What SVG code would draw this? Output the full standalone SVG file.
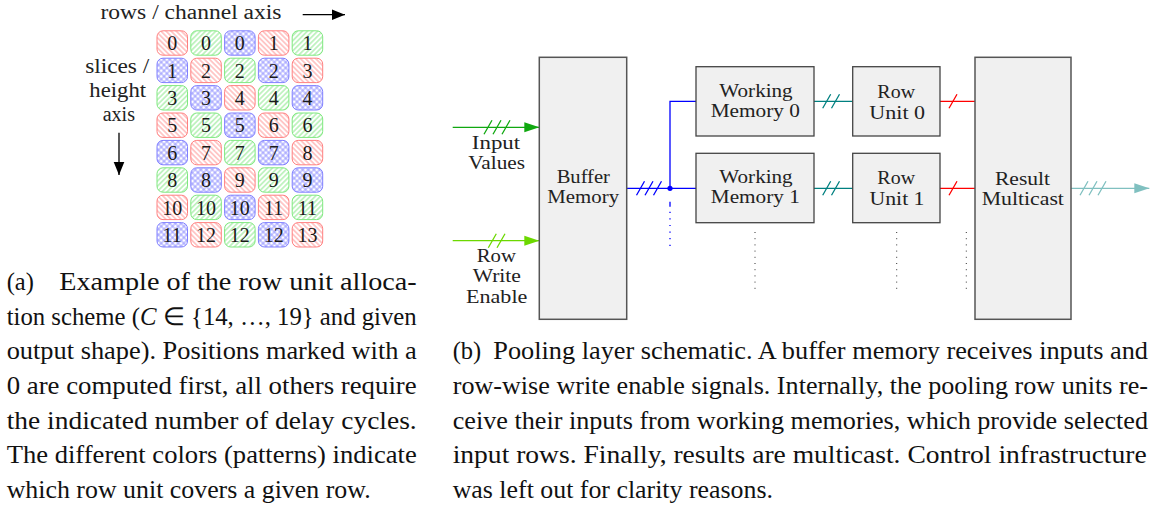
<svg xmlns="http://www.w3.org/2000/svg" width="1153" height="506" viewBox="0 0 1153 506" font-family="Liberation Serif, serif">
<style>
.cr{fill:url(#hr);stroke:#ff8080;stroke-width:1}
.cg{fill:url(#hg);stroke:#7fe87f;stroke-width:1}
.cb{fill:url(#hb);stroke:#8080ff;stroke-width:1}
.num{font-size:20px;fill:#1a1a1a;text-anchor:middle}
.lbl{font-size:19.5px;fill:#222;text-anchor:middle}
.ax{font-size:20.5px;fill:#222;text-anchor:middle}
.cap{font-size:24.5px;fill:#111}
.box{fill:#f0f0f0;stroke:#444;stroke-width:1.3}
.big{fill:#f0f0f0;stroke:#555;stroke-width:1.5}
.w{fill:none;stroke-width:1.3}
.dots{fill:none;stroke:#333;stroke-width:1;stroke-dasharray:1 5.2}
</style>
<defs>
<pattern id="hr" patternUnits="userSpaceOnUse" width="3.6" height="3.6" patternTransform="rotate(-45)"><rect width="3.6" height="3.6" fill="#fff"/><line x1="1.8" y1="0" x2="1.8" y2="3.6" stroke="#ff8585" stroke-width="0.85"/></pattern>
<pattern id="hg" patternUnits="userSpaceOnUse" width="3.6" height="3.6" patternTransform="rotate(45)"><rect width="3.6" height="3.6" fill="#fff"/><line x1="1.8" y1="0" x2="1.8" y2="3.6" stroke="#78e478" stroke-width="0.85"/></pattern>
<pattern id="hb" patternUnits="userSpaceOnUse" width="4" height="4" patternTransform="rotate(45)"><rect width="4" height="4" fill="#fff"/><line x1="2" y1="0" x2="2" y2="4" stroke="#8585ff" stroke-width="0.85"/><line x1="0" y1="2" x2="4" y2="2" stroke="#8585ff" stroke-width="0.85"/></pattern>
<marker id="ak" markerUnits="userSpaceOnUse" markerWidth="14" markerHeight="12" refX="13" refY="6" orient="auto"><path d="M0,0.7 L13,6 L0,11.3 Z" fill="#000"/></marker>
<marker id="ag" markerUnits="userSpaceOnUse" markerWidth="16" markerHeight="12" refX="15" refY="6" orient="auto"><path d="M0,1 L15,6 L0,11 Z" fill="#10a810"/></marker>
<marker id="al" markerUnits="userSpaceOnUse" markerWidth="16" markerHeight="12" refX="15" refY="6" orient="auto"><path d="M0,1 L15,6 L0,11 Z" fill="#6cd800"/></marker>
<marker id="at" markerUnits="userSpaceOnUse" markerWidth="16" markerHeight="12" refX="15" refY="6" orient="auto"><path d="M0,1 L15,6 L0,11 Z" fill="#80c0c0"/></marker>
</defs>
<rect width="1153" height="506" fill="#fff"/>

<!-- (a) axis labels -->
<g id="axis-labels">
<text class="ax" x="191" y="19" textLength="181" lengthAdjust="spacingAndGlyphs">rows / channel axis</text>
<line x1="302.7" y1="14.7" x2="345" y2="14.7" stroke="#000" stroke-width="1.3" marker-end="url(#ak)"/>
<text class="ax" x="117.2" y="72.7" textLength="64" lengthAdjust="spacingAndGlyphs">slices /</text>
<text class="ax" x="117.7" y="96.7" textLength="56.7" lengthAdjust="spacingAndGlyphs">height</text>
<text class="ax" x="118.8" y="121" textLength="32.3" lengthAdjust="spacingAndGlyphs">axis</text>
<line x1="119" y1="132.7" x2="119" y2="175" stroke="#000" stroke-width="1.3" marker-end="url(#ak)"/>
</g>

<!-- (a) grid -->
<g id="grid">
<g id="c00"><rect class="cr" x="157" y="30.8" width="30.5" height="24.4" rx="6"/><text class="num" x="172.25" y="50.1">0</text></g>
<g id="c01"><rect class="cg" x="190.8" y="30.8" width="30.5" height="24.4" rx="6"/><text class="num" x="206.05" y="50.1">0</text></g>
<g id="c02"><rect class="cb" x="224.6" y="30.8" width="30.5" height="24.4" rx="6"/><text class="num" x="239.85" y="50.1">0</text></g>
<g id="c03"><rect class="cr" x="258.4" y="30.8" width="30.5" height="24.4" rx="6"/><text class="num" x="273.65" y="50.1">1</text></g>
<g id="c04"><rect class="cg" x="292.2" y="30.8" width="30.5" height="24.4" rx="6"/><text class="num" x="307.45" y="50.1">1</text></g>

<g id="c10"><rect class="cb" x="157" y="58.2" width="30.5" height="24.4" rx="6"/><text class="num" x="172.25" y="77.5">1</text></g>
<g id="c11"><rect class="cr" x="190.8" y="58.2" width="30.5" height="24.4" rx="6"/><text class="num" x="206.05" y="77.5">2</text></g>
<g id="c12"><rect class="cg" x="224.6" y="58.2" width="30.5" height="24.4" rx="6"/><text class="num" x="239.85" y="77.5">2</text></g>
<g id="c13"><rect class="cb" x="258.4" y="58.2" width="30.5" height="24.4" rx="6"/><text class="num" x="273.65" y="77.5">2</text></g>
<g id="c14"><rect class="cr" x="292.2" y="58.2" width="30.5" height="24.4" rx="6"/><text class="num" x="307.45" y="77.5">3</text></g>

<g id="c20"><rect class="cg" x="157" y="85.6" width="30.5" height="24.4" rx="6"/><text class="num" x="172.25" y="104.9">3</text></g>
<g id="c21"><rect class="cb" x="190.8" y="85.6" width="30.5" height="24.4" rx="6"/><text class="num" x="206.05" y="104.9">3</text></g>
<g id="c22"><rect class="cr" x="224.6" y="85.6" width="30.5" height="24.4" rx="6"/><text class="num" x="239.85" y="104.9">4</text></g>
<g id="c23"><rect class="cg" x="258.4" y="85.6" width="30.5" height="24.4" rx="6"/><text class="num" x="273.65" y="104.9">4</text></g>
<g id="c24"><rect class="cb" x="292.2" y="85.6" width="30.5" height="24.4" rx="6"/><text class="num" x="307.45" y="104.9">4</text></g>

<g id="c30"><rect class="cr" x="157" y="113" width="30.5" height="24.4" rx="6"/><text class="num" x="172.25" y="132.3">5</text></g>
<g id="c31"><rect class="cg" x="190.8" y="113" width="30.5" height="24.4" rx="6"/><text class="num" x="206.05" y="132.3">5</text></g>
<g id="c32"><rect class="cb" x="224.6" y="113" width="30.5" height="24.4" rx="6"/><text class="num" x="239.85" y="132.3">5</text></g>
<g id="c33"><rect class="cr" x="258.4" y="113" width="30.5" height="24.4" rx="6"/><text class="num" x="273.65" y="132.3">6</text></g>
<g id="c34"><rect class="cg" x="292.2" y="113" width="30.5" height="24.4" rx="6"/><text class="num" x="307.45" y="132.3">6</text></g>

<g id="c40"><rect class="cb" x="157" y="140.4" width="30.5" height="24.4" rx="6"/><text class="num" x="172.25" y="159.7">6</text></g>
<g id="c41"><rect class="cr" x="190.8" y="140.4" width="30.5" height="24.4" rx="6"/><text class="num" x="206.05" y="159.7">7</text></g>
<g id="c42"><rect class="cg" x="224.6" y="140.4" width="30.5" height="24.4" rx="6"/><text class="num" x="239.85" y="159.7">7</text></g>
<g id="c43"><rect class="cb" x="258.4" y="140.4" width="30.5" height="24.4" rx="6"/><text class="num" x="273.65" y="159.7">7</text></g>
<g id="c44"><rect class="cr" x="292.2" y="140.4" width="30.5" height="24.4" rx="6"/><text class="num" x="307.45" y="159.7">8</text></g>

<g id="c50"><rect class="cg" x="157" y="167.8" width="30.5" height="24.4" rx="6"/><text class="num" x="172.25" y="187.1">8</text></g>
<g id="c51"><rect class="cb" x="190.8" y="167.8" width="30.5" height="24.4" rx="6"/><text class="num" x="206.05" y="187.1">8</text></g>
<g id="c52"><rect class="cr" x="224.6" y="167.8" width="30.5" height="24.4" rx="6"/><text class="num" x="239.85" y="187.1">9</text></g>
<g id="c53"><rect class="cg" x="258.4" y="167.8" width="30.5" height="24.4" rx="6"/><text class="num" x="273.65" y="187.1">9</text></g>
<g id="c54"><rect class="cb" x="292.2" y="167.8" width="30.5" height="24.4" rx="6"/><text class="num" x="307.45" y="187.1">9</text></g>

<g id="c60"><rect class="cr" x="157" y="195.2" width="30.5" height="24.4" rx="6"/><text class="num" x="172.25" y="214.5">10</text></g>
<g id="c61"><rect class="cg" x="190.8" y="195.2" width="30.5" height="24.4" rx="6"/><text class="num" x="206.05" y="214.5">10</text></g>
<g id="c62"><rect class="cb" x="224.6" y="195.2" width="30.5" height="24.4" rx="6"/><text class="num" x="239.85" y="214.5">10</text></g>
<g id="c63"><rect class="cr" x="258.4" y="195.2" width="30.5" height="24.4" rx="6"/><text class="num" x="273.65" y="214.5">11</text></g>
<g id="c64"><rect class="cg" x="292.2" y="195.2" width="30.5" height="24.4" rx="6"/><text class="num" x="307.45" y="214.5">11</text></g>

<g id="c70"><rect class="cb" x="157" y="222.6" width="30.5" height="24.4" rx="6"/><text class="num" x="172.25" y="241.9">11</text></g>
<g id="c71"><rect class="cr" x="190.8" y="222.6" width="30.5" height="24.4" rx="6"/><text class="num" x="206.05" y="241.9">12</text></g>
<g id="c72"><rect class="cg" x="224.6" y="222.6" width="30.5" height="24.4" rx="6"/><text class="num" x="239.85" y="241.9">12</text></g>
<g id="c73"><rect class="cb" x="258.4" y="222.6" width="30.5" height="24.4" rx="6"/><text class="num" x="273.65" y="241.9">12</text></g>
<g id="c74"><rect class="cr" x="292.2" y="222.6" width="30.5" height="24.4" rx="6"/><text class="num" x="307.45" y="241.9">13</text></g>
</g>

<!-- (b) connectors -->
<g id="connectors">
<g stroke="#10a810" class="w">
<line x1="452.7" y1="127.3" x2="539.3" y2="127.3" marker-end="url(#ag)"/>
<path d="M484,134.3 L492,120.3 M493,134.3 L501,120.3 M502,134.3 L510,120.3"/>
</g>
<g stroke="#6cd800" class="w">
<line x1="452.7" y1="240.7" x2="539.3" y2="240.7" marker-end="url(#al)"/>
<path d="M488.3,247.7 L496.3,233.7 M497,247.7 L505,233.7"/>
</g>
<g stroke="#0000ff" class="w">
<path d="M626.7,188.3 H696 M670,188.3 V101.3 H696"/>
<path d="M636.5,195.3 L644.5,181.3 M645,195.3 L653,181.3 M653.5,195.3 L661.5,181.3"/>
<line x1="670" y1="201.7" x2="670" y2="206.7"/>
<line x1="670" y1="211.7" x2="670" y2="247" stroke-dasharray="1.2 5.4"/>
</g>
<circle cx="670" cy="188.3" r="2.6" fill="#0000ff"/>
<g stroke="#008080" class="w">
<line x1="814" y1="101.3" x2="852.7" y2="101.3"/>
<line x1="814" y1="188.3" x2="852.7" y2="188.3"/>
<path d="M822.7,108.3 L830.7,94.3 M831.5,108.3 L839.5,94.3 M822.7,195.3 L830.7,181.3 M831.5,195.3 L839.5,181.3"/>
</g>
<g stroke="#ff0000" class="w">
<line x1="940" y1="101.3" x2="975" y2="101.3"/>
<line x1="940" y1="188.3" x2="975" y2="188.3"/>
<path d="M949,108.3 L957,94.3 M949,195.3 L957,181.3"/>
</g>
<g stroke="#80c0c0" class="w">
<line x1="1071" y1="188.3" x2="1149.3" y2="188.3" marker-end="url(#at)"/>
<path d="M1080,195.3 L1088,181.3 M1089,195.3 L1097,181.3 M1098,195.3 L1106,181.3"/>
</g>
<line class="dots" x1="755" y1="232" x2="755" y2="289"/>
<line class="dots" x1="896.7" y1="232" x2="896.7" y2="289"/>
<line class="dots" x1="966.3" y1="232" x2="966.3" y2="289"/>
</g>

<!-- (b) input labels -->
<g id="input-values-label">
<text class="lbl" x="496" y="149.3" textLength="48.3" lengthAdjust="spacingAndGlyphs">Input</text>
<text class="lbl" x="496.7" y="168.7" textLength="56.7" lengthAdjust="spacingAndGlyphs">Values</text>
</g>
<g id="row-write-enable-label">
<text class="lbl" x="496.3" y="261.7" textLength="39.3" lengthAdjust="spacingAndGlyphs">Row</text>
<text class="lbl" x="496.8" y="282.3" textLength="48.3" lengthAdjust="spacingAndGlyphs">Write</text>
<text class="lbl" x="496.7" y="303" textLength="61.3" lengthAdjust="spacingAndGlyphs">Enable</text>
</g>

<!-- (b) nodes -->
<g id="buffer-memory">
<rect class="big" x="539.3" y="57.3" width="87.4" height="262"/>
<text class="lbl" x="583.3" y="183.3" textLength="53.3" lengthAdjust="spacingAndGlyphs">Buffer</text>
<text class="lbl" x="583.2" y="203.3" textLength="71.7" lengthAdjust="spacingAndGlyphs">Memory</text>
</g>
<g id="working-memory-0">
<rect class="box" x="696" y="66.7" width="118" height="69.3"/>
<text class="lbl" x="756" y="96.7" textLength="73.3" lengthAdjust="spacingAndGlyphs">Working</text>
<text class="lbl" x="755.3" y="116.5" textLength="89.3" lengthAdjust="spacingAndGlyphs">Memory 0</text>
</g>
<g id="working-memory-1">
<rect class="box" x="696" y="153.3" width="118" height="69.4"/>
<text class="lbl" x="756" y="183.3" textLength="73.3" lengthAdjust="spacingAndGlyphs">Working</text>
<text class="lbl" x="755.3" y="203.2" textLength="89" lengthAdjust="spacingAndGlyphs">Memory 1</text>
</g>
<g id="row-unit-0">
<rect class="box" x="852.7" y="66.7" width="87.3" height="69.3"/>
<text class="lbl" x="896.2" y="97.5" textLength="37.7" lengthAdjust="spacingAndGlyphs">Row</text>
<text class="lbl" x="897.2" y="118.5" textLength="55.7" lengthAdjust="spacingAndGlyphs">Unit 0</text>
</g>
<g id="row-unit-1">
<rect class="box" x="852.7" y="153.3" width="87.3" height="69.4"/>
<text class="lbl" x="896.2" y="184.3" textLength="37.7" lengthAdjust="spacingAndGlyphs">Row</text>
<text class="lbl" x="897" y="205" textLength="55" lengthAdjust="spacingAndGlyphs">Unit 1</text>
</g>
<g id="result-multicast">
<rect class="big" x="975" y="57.3" width="96" height="262"/>
<text class="lbl" x="1022.5" y="185" textLength="55" lengthAdjust="spacingAndGlyphs">Result</text>
<text class="lbl" x="1022.8" y="205" textLength="82.3" lengthAdjust="spacingAndGlyphs">Multicast</text>
</g>

<!-- captions -->
<g id="caption-a">
<text class="cap" x="6.7" y="289.8">(a)</text>
<text class="cap" x="59.3" y="289.8" textLength="357.4" lengthAdjust="spacingAndGlyphs">Example of the row unit alloca-</text>
<text class="cap" x="6.7" y="324.5" textLength="410" lengthAdjust="spacingAndGlyphs">tion scheme (<tspan font-style="italic">C</tspan> ∈ {14, …, 19} and given</text>
<text class="cap" x="6.7" y="359.2" textLength="410" lengthAdjust="spacingAndGlyphs">output shape). Positions marked with a</text>
<text class="cap" x="6.7" y="393.9" textLength="410" lengthAdjust="spacingAndGlyphs">0 are computed first, all others require</text>
<text class="cap" x="6.7" y="428.6" textLength="410" lengthAdjust="spacingAndGlyphs">the indicated number of delay cycles.</text>
<text class="cap" x="6.7" y="463.3" textLength="410" lengthAdjust="spacingAndGlyphs">The different colors (patterns) indicate</text>
<text class="cap" x="6.7" y="498" textLength="364" lengthAdjust="spacingAndGlyphs">which row unit covers a given row.</text>
</g>
<g id="caption-b">
<text class="cap" x="452.7" y="359.3">(b)</text>
<text class="cap" x="493.3" y="359.3" textLength="654.7" lengthAdjust="spacingAndGlyphs">Pooling layer schematic. A buffer memory receives inputs and</text>
<text class="cap" x="452.7" y="394" textLength="695.3" lengthAdjust="spacingAndGlyphs">row-wise write enable signals. Internally, the pooling row units re-</text>
<text class="cap" x="452.7" y="428.7" textLength="695.3" lengthAdjust="spacingAndGlyphs">ceive their inputs from working memories, which provide selected</text>
<text class="cap" x="452.7" y="463.3" textLength="694" lengthAdjust="spacingAndGlyphs">input rows. Finally, results are multicast. Control infrastructure</text>
<text class="cap" x="452.7" y="498" textLength="320.3" lengthAdjust="spacingAndGlyphs">was left out for clarity reasons.</text>
</g>
</svg>
